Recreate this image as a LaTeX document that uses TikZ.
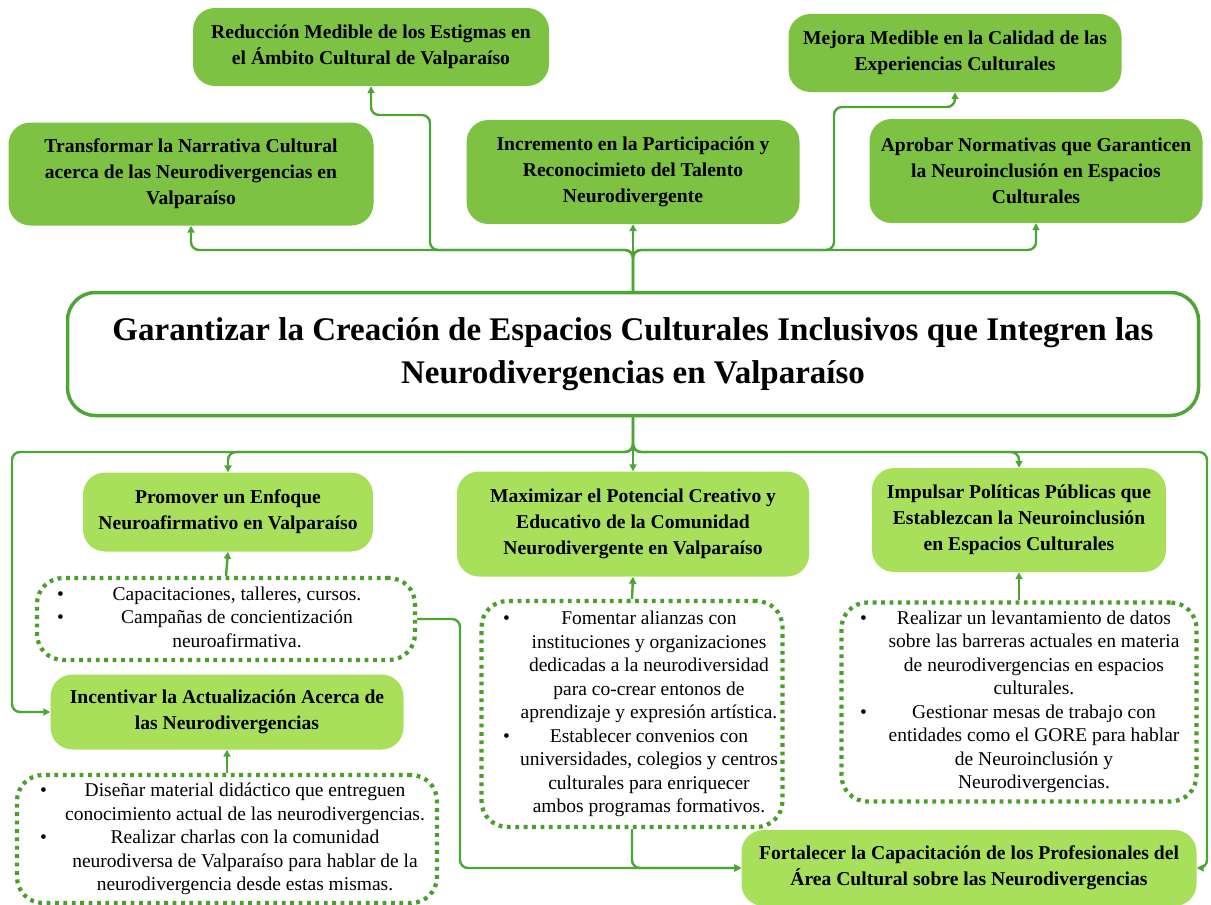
\documentclass[tikz,border=0pt]{standalone}
\usepackage{fontspec}
\setmainfont{Liberation Serif}
\usetikzlibrary{arrows.meta}
\definecolor{topg}{HTML}{7DC242}
\definecolor{subg}{HTML}{A8E05C}
\definecolor{lineg}{HTML}{4CA534}
\definecolor{dotg}{HTML}{4A9E2A}
\newcommand\bitem[3]{\makebox[#1][l]{\textbullet} & \makebox[#2]{\begin{tabular}[t]{@{}c@{}}#3\end{tabular}}\\}
\begin{document}
\begin{tikzpicture}[x=1pt,y=-1pt,
  topbox/.style={fill=topg, rounded corners=22pt, align=center, inner sep=0pt,
     font=\fontsize{19.6}{26}\selectfont\bfseries},
  subbox/.style={fill=subg, rounded corners=22pt, align=center, inner sep=0pt,
     font=\fontsize{19.6}{26}\selectfont\bfseries},
  dotbox/.style={draw=dotg, line width=4.2pt, dash pattern=on 3.8pt off 4.6pt,
     rounded corners=26pt, fill=white, inner sep=0pt, font=\fontsize{19.5}{23.5}\selectfont},
  conn/.style={draw=lineg, line width=2.4pt, rounded corners=8pt, -{Triangle[length=7pt,width=7pt]}}
]
\useasboundingbox (0,0) rectangle (1211,905);

% top level
\node[topbox, minimum width=356pt, minimum height=78pt] (red) at (371,47)
  {Reducción Medible de los Estigmas en\\el Ámbito Cultural de Valparaíso};
\node[topbox, minimum width=333pt, minimum height=78pt] (mej) at (955,53)
  {Mejora Medible en la Calidad de las\\Experiencias Culturales};
\node[topbox, minimum width=365pt, minimum height=103pt] (tra) at (191,174)
  {Transformar la Narrativa Cultural\\acerca de las Neurodivergencias en\\Valparaíso};
\node[topbox, minimum width=333pt, minimum height=104pt] (inc) at (633,172)
  {Incremento en la Participación y\\Reconocimieto del Talento\\Neurodivergente};
\node[topbox, minimum width=333pt, minimum height=104pt] (apr) at (1036,171)
  {Aprobar Normativas que Garanticen\\la Neuroinclusión en Espacios\\Culturales};

% main
\node[draw=lineg, line width=3.5pt, rounded corners=28pt, fill=white, align=center,
  minimum width=1131pt, minimum height=123pt, inner sep=0pt,
  font=\fontsize{33}{43}\selectfont\bfseries] (main) at (633,354)
  {Garantizar la Creación de Espacios Culturales Inclusivos que Integren las\\Neurodivergencias en Valparaíso};

% second level
\node[subbox, minimum width=290pt, minimum height=79pt] (pro) at (228,512)
  {Promover un Enfoque\\Neuroafirmativo en Valparaíso};
\node[subbox, minimum width=352pt, minimum height=105pt] (max) at (633,524)
  {Maximizar el Potencial Creativo y\\Educativo de la Comunidad\\Neurodivergente en Valparaíso};
\node[subbox, minimum width=294pt, minimum height=104pt] (imp) at (1019,520)
  {Impulsar Políticas Públicas que\\Establezcan la Neuroinclusión\\en Espacios Culturales};
\node[subbox, minimum width=353pt, minimum height=75pt] (act) at (227,712)
  {Incentivar la Actualización Acerca de\\las Neurodivergencias};
\node[subbox, minimum width=455pt, minimum height=76pt] (fort) at (969,868)
  {Fortalecer la Capacitación de los Profesionales del\\Área Cultural sobre las Neurodivergencias};

% dotted boxes
\node[dotbox, minimum width=378pt, minimum height=82pt] (b1) at (226,619)
  {\begin{tabular}{@{}l@{}l@{}}
   \bitem{22pt}{316pt}{Capacitaciones, talleres, cursos.}
   \bitem{22pt}{316pt}{Campañas de concientización\\neuroafirmativa.}
   \end{tabular}};
\node[dotbox, minimum width=420pt, minimum height=128pt] (b2) at (227,839)
  {\begin{tabular}{@{}l@{}l@{}}
   \bitem{36pt}{338pt}{Diseñar material didáctico que entreguen\\conocimiento actual de las neurodivergencias.}
   \bitem{36pt}{338pt}{Realizar charlas con la comunidad\\neurodiversa de Valparaíso para hablar de la\\neurodivergencia desde estas mismas.}
   \end{tabular}};
\node[dotbox, minimum width=301pt, minimum height=226pt] (b3) at (632,714)
  {\begin{tabular}{@{}l@{}l@{}}
   \bitem{34pt}{224pt}{Fomentar alianzas con\\instituciones y organizaciones\\dedicadas a la neurodiversidad\\para co-crear entonos de\\aprendizaje y expresión artística.}
   \bitem{34pt}{224pt}{Establecer convenios con\\universidades, colegios y centros\\culturales para enriquecer\\ambos programas formativos.}
   \end{tabular}};
\node[dotbox, minimum width=355pt, minimum height=199pt] (b4) at (1019,702)
  {\begin{tabular}{@{}l@{}l@{}}
   \bitem{30pt}{288pt}{Realizar un levantamiento de datos\\sobre las barreras actuales en materia\\de neurodivergencias en espacios\\culturales.}
   \bitem{30pt}{288pt}{Gestionar mesas de trabajo con\\entidades como el GORE para hablar\\de Neuroinclusión y\\Neurodivergencias.}
   \end{tabular}};

% connectors upward
\draw[conn] (main.north) -- (633,250) -- (191,250) -- (tra.south);
\draw[conn] (main.north) -- (633,250) -- (430,250) -- (430,115) -- (371,115) -- (red.south);
\draw[conn] (main.north) -- (inc.south);
\draw[conn] (main.north) -- (633,250) -- (834,250) -- (834,107) -- (955,107) -- (mej.south);
\draw[conn] (main.north) -- (633,250) -- (1036,250) -- (apr.south);

% connectors downward
\draw[conn] (main.south) -- (633,452) -- (228,452) -- (pro.north);
\draw[conn] (main.south) -- (max.north);
\draw[conn] (main.south) -- (633,452) -- (1019,452) -- (imp.north);
\draw[conn] (main.south) -- (633,452) -- (12,452) -- (12,712) -- (act.west);
\draw[conn] (main.south) -- (633,452) -- (1207,452) -- (1207,868) -- (fort.east);

% dotted boxes to goals
\draw[conn] (b1.north) -- (pro.south);
\draw[conn] (b2.north) -- (act.south);
\draw[conn] (b3.north) -- (max.south);
\draw[conn] (b4.north) -- (imp.south);
\draw[conn] (b1.east) -- (460,619) -- (460,868) -- (fort.west);
\draw[conn] (b3.south) -- (632,868) -- (fort.west);
\end{tikzpicture}
\end{document}
